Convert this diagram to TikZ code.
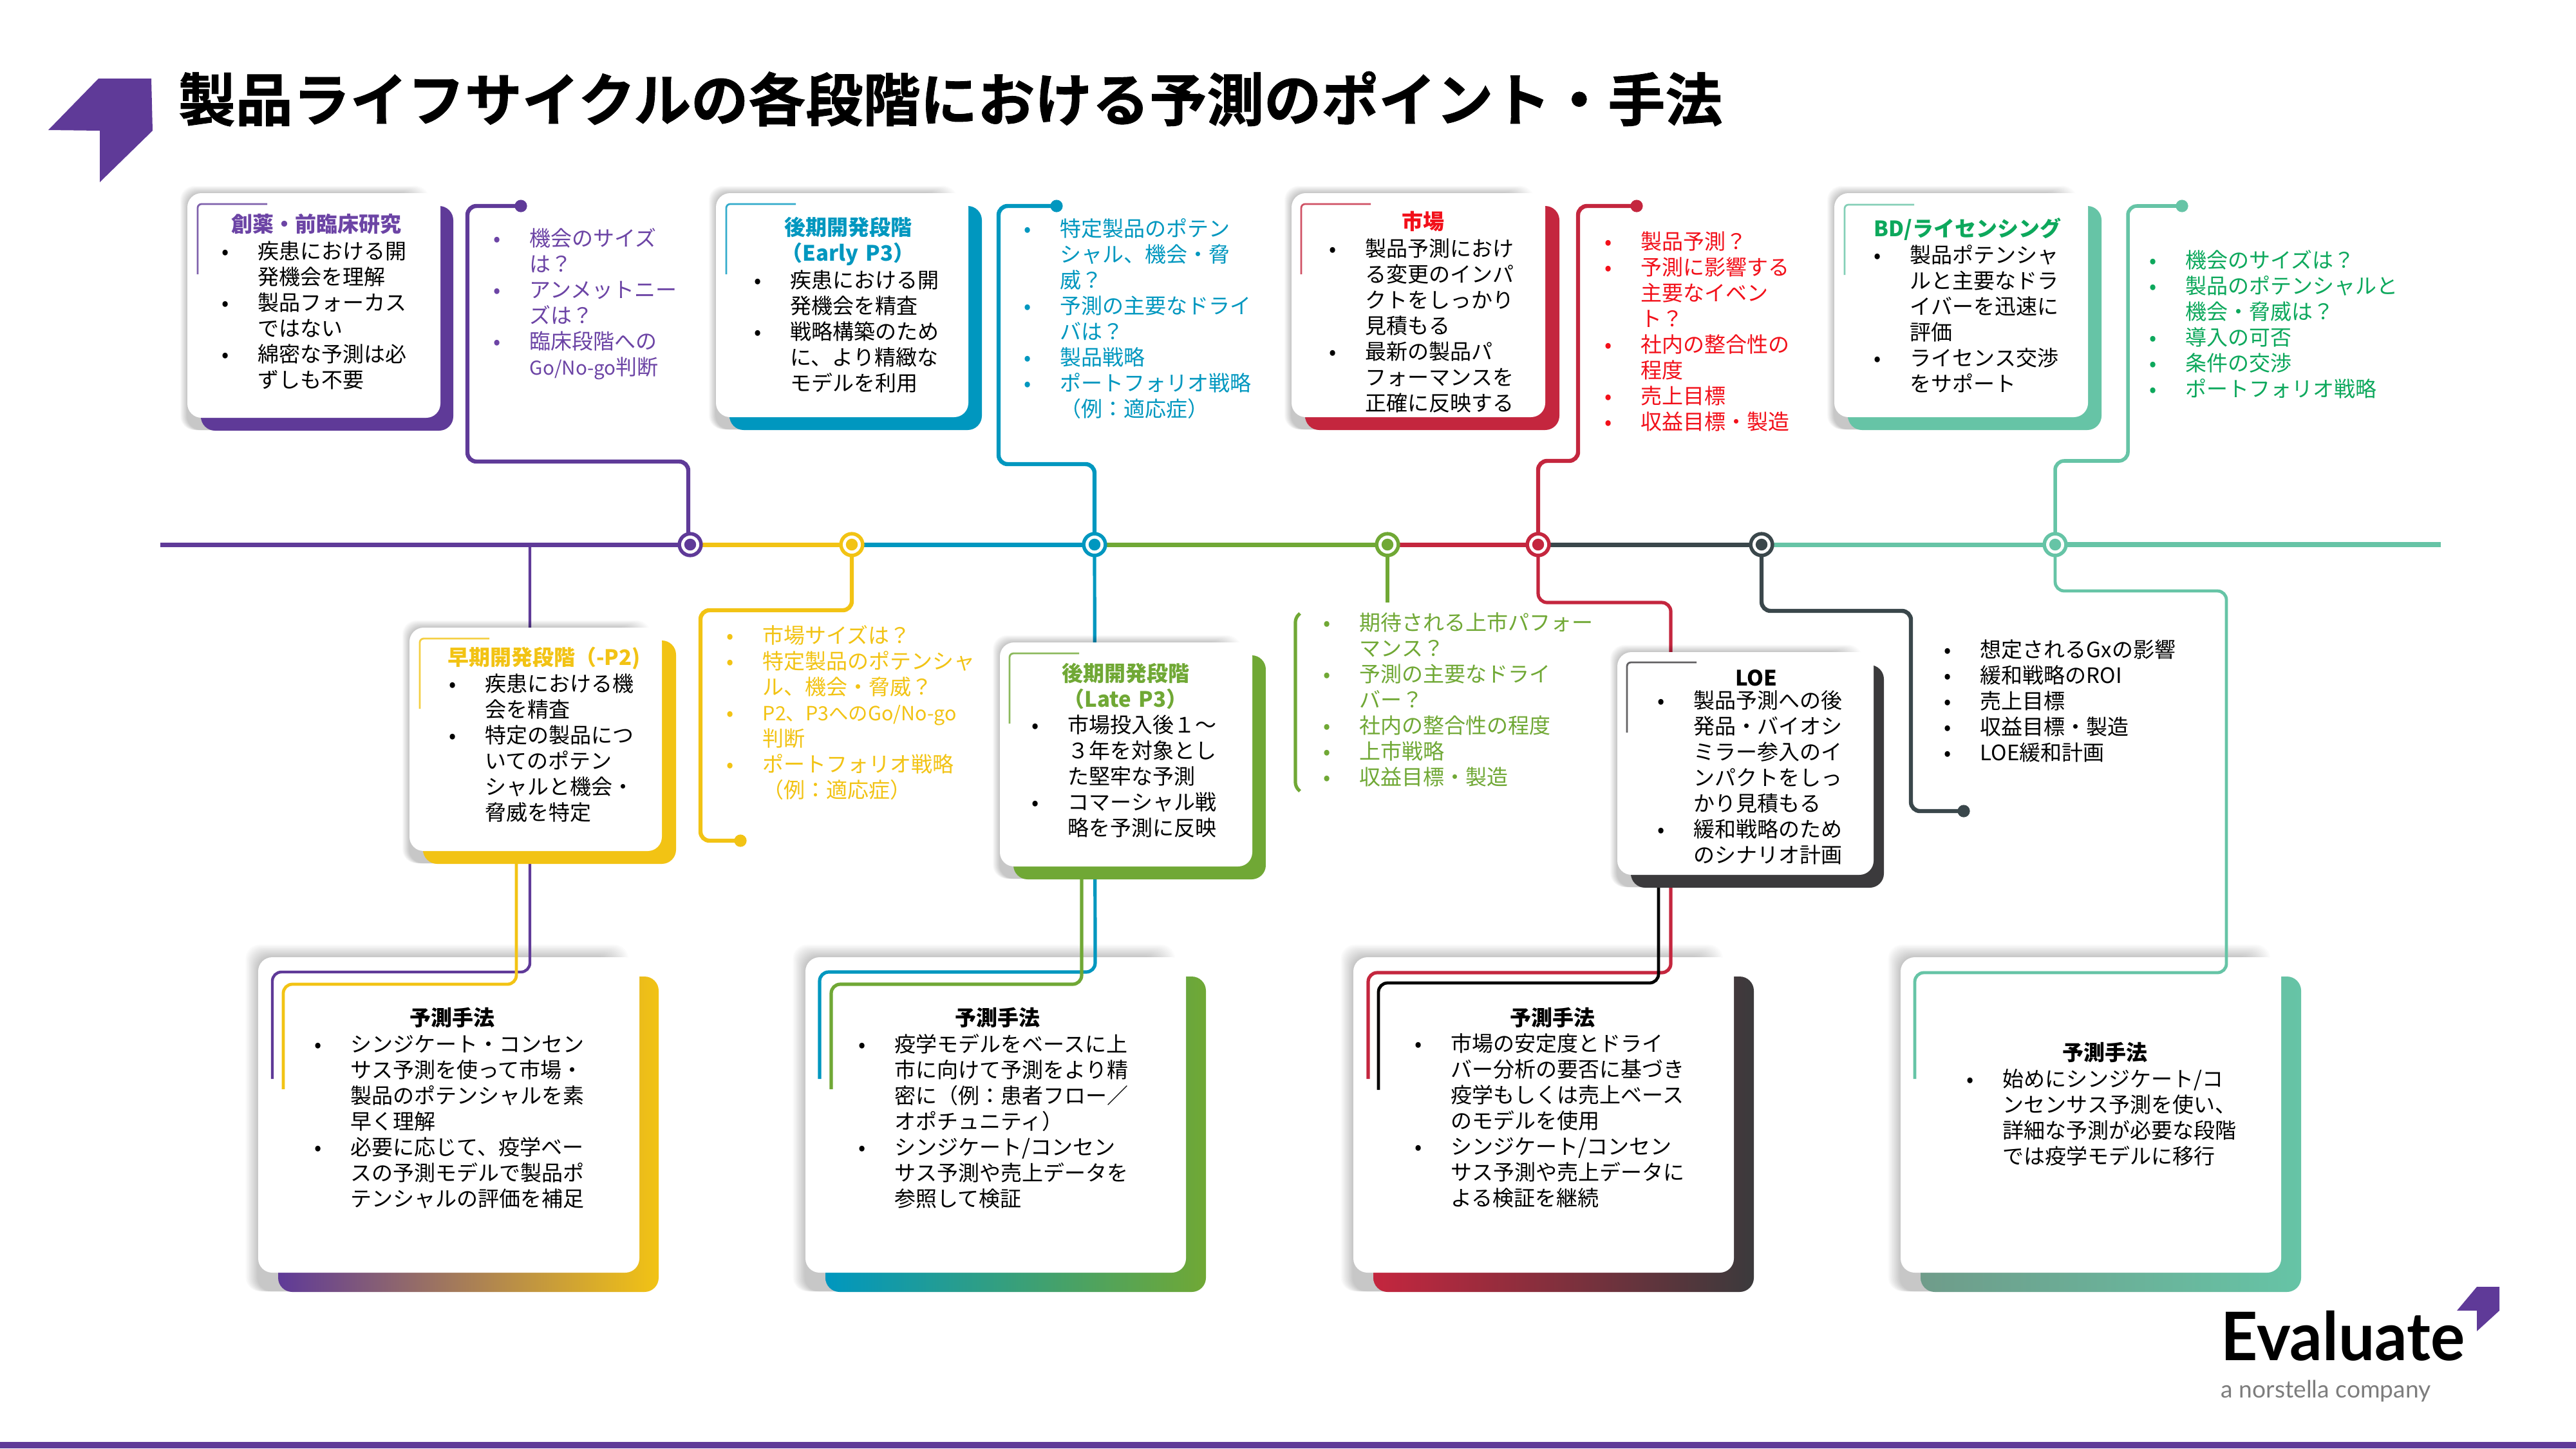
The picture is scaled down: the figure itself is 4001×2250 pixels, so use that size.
\documentclass[tikz,border=0pt]{standalone}
\usepackage{fontspec}
\setmainfont{Noto Sans CJK JP}
\newfontfamily\ttlfont[FakeBold=1]{Noto Sans CJK JP Bold}
\newfontfamily\logofont{Lato}
\pgfdeclarelayer{under}\pgfdeclarelayer{mid}
\pgfsetlayers{under,mid,main}
\definecolor{cpurp}{HTML}{5F3A98}\definecolor{tpurp}{HTML}{6C44A5}
\definecolor{cyel}{HTML}{F2C314}\definecolor{cblue}{HTML}{0097BF}
\definecolor{cgreen}{HTML}{70A835}\definecolor{cred}{HTML}{C4263E}
\definecolor{cdark}{HTML}{3B3A3C}\definecolor{cslate}{HTML}{3A474B}
\definecolor{cmint}{HTML}{66C4A6}\definecolor{tmint}{HTML}{0DA85C}
\definecolor{tred}{HTML}{F2101A}\definecolor{mintfade}{HTML}{6F9C8A}
\definecolor{cgrey}{HTML}{7D7D7D}
\tikzset{
 x=0.25pt,y=-0.25pt,
 cardwhite/.style={fill=white,rounded corners=5.5pt,inner sep=0pt,draw=none},
 conn/.style={draw=#1,line width=1.6pt,rounded corners=3.5pt},
 thin corner/.style={draw=#1,line width=0.7pt,rounded corners=1.5pt},
 spine/.style={draw=#1,line width=1.75pt},
 body/.style={inner sep=0pt,anchor=base west,align=left,font=\fontsize{8.25}{10}\selectfont,text=#1},
 body/.default=black,
 cardtitle/.style={inner sep=0pt,anchor=base,align=center,text width=90pt,font=\fontsize{8.25}{10}\selectfont\bfseries,text=#1},
 endcap/.style={circle,fill=#1,inner sep=0pt,minimum size=4.8pt},
 ringouter/.style={circle,fill=#1,inner sep=0pt,minimum size=9.8pt},
}
\newcommand\bl{\leavevmode\llap{\makebox[0pt][c]{•}\hspace{12.75pt}}}
% name xl yt xr yb right-offset depth colourA colourB
\newcommand\cardback[9]{%
 \foreach \k in {1,...,14}{\fill[black,opacity=.017,rounded corners=5.5pt]
   ({#2-(0.06*#7-0.4)*\k},{#3-(0.06*#7-0.4)*\k}) rectangle ({#4-45+2*\k},{#5+#7-1});}
 \shade[left color=#8,right color=#9,rounded corners=5.5pt]
   ({#2+#7+1},{#3+#7}) rectangle ({#4+#6},{#5+#7});
 \node[cardwhite,minimum width={(#4-#2)*0.25pt},minimum height={(#5-#3)*0.25pt}] (#1) at ({(#2+#4)/2},{(#3+#5)/2}) {};
}
\newcommand\thincorner[3]{\draw[thin corner=#3,opacity=.8] (#1,{#2+109}) -- (#1,#2) -- ({#1+108},#2);}
\newcommand\ring[4]{% name x y colour
 \node[ringouter=#4] (#1) at (#2,#3) {};
 \node[circle,fill=white,inner sep=0pt,minimum size=7pt] (#1w) at (#2,#3) {};
 \node[circle,fill=#4,inner sep=0pt,minimum size=4.6pt] (#1c) at (#2,#3) {};
}
\begin{document}
\begin{tikzpicture}
\useasboundingbox (0,0) rectangle (4001,2250);
\begin{pgfonlayer}{under}
\fill[white] (0,0) rectangle (4001,2250);
\end{pgfonlayer}
% header
\fill[cpurp] (153,122) -- (235,122) -- (237,203) -- (155,283) -- (155,203) -- (75,202) -- cycle;
\node[inner sep=0pt,anchor=base west,font=\ttlfont\fontsize{22.25}{26}\selectfont] (title) at (276,188) {製品ライフサイクルの各段階における予測のポイント・手法};
\fill[cpurp] (0,2240) rectangle (4001,2250);

% bottom cards
\begin{pgfonlayer}{under}
\cardback{m1}{401}{1487}{993}{1977}{30}{30}{cpurp}{cyel}
\cardback{m2}{1251}{1487}{1842}{1977}{31}{30}{cblue}{cgreen}
\cardback{m3}{2102}{1487}{2693}{1977}{31}{30}{cred}{cdark}
\cardback{m4}{2952}{1487}{3543}{1977}{31}{30}{mintfade}{cmint}
\end{pgfonlayer}

% top cards
\cardback{c1}{291}{300}{684}{649}{20}{20}{cpurp}{cpurp}
\cardback{c2}{636}{975}{1028}{1322}{22}{20}{cyel}{cyel}
\cardback{c3}{1112}{300}{1504}{648}{21}{20}{cblue}{cblue}
\cardback{c4}{1553}{998}{1945}{1346}{21}{20}{cgreen}{cgreen}
\cardback{c5}{2006}{300}{2400}{648}{22}{20}{cred}{cred}
\cardback{c6}{2512}{1013}{2910}{1359}{16}{20}{cdark}{cdark}
\cardback{c7}{2849}{300}{3243}{648}{21}{20}{cmint}{cmint}

\thincorner{307}{317}{cpurp}
\thincorner{652}{992}{cyel}
\thincorner{1128}{317}{cblue}
\thincorner{1568}{1015}{cgreen}
\thincorner{2021}{317}{cred}
\thincorner{2527}{1029}{cdark}
\thincorner{2865}{318}{cmint}

% rings and end caps
\ring{n1}{1072}{846}{cpurp}
\ring{n2}{1323}{846}{cyel}
\ring{n3}{1700}{846}{cblue}
\ring{n4}{2155}{846}{cgreen}
\ring{n5}{2389}{846}{cred}
\ring{n6}{2736}{846}{cslate}
\ring{n7}{3192}{846}{cmint}
\node[endcap=cpurp] (d1) at (809,320) {};
\node[endcap=cyel] (d2) at (1150,1306) {};
\node[endcap=cblue] (d3) at (1641,320) {};
\node[endcap=cred] (d5) at (2542,320) {};
\node[endcap=cslate] (d6) at (3050,1260) {};
\node[endcap=cmint] (d7) at (3389,320) {};

\coordinate (start) at (249,846);
\coordinate (stop) at (3791,846);
\coordinate (tap1) at (823,846);
\coordinate (end1) at (423,1676);
\coordinate (end2) at (440,1692);
\coordinate (end3) at (1273,1676);
\coordinate (end4) at (1291,1692);
\coordinate (end5) at (2125,1676);
\coordinate (end6) at (2141,1693);
\coordinate (end7) at (2974,1676);
\coordinate (end8) at (2155,936);
\coordinate (src2) at (802,1322);
\coordinate (src4) at (1680,1346);
\coordinate (src6) at (2576,1359);

\begin{pgfonlayer}{mid}
\draw[spine=cpurp] (start) -- (n1.center);
\draw[spine=cyel] (n1.center) -- (n2.center);
\draw[spine=cblue] (n2.center) -- (n3.center);
\draw[spine=cgreen] (n3.center) -- (n4.center);
\draw[spine=cred] (n4.center) -- (n5.center);
\draw[spine=cslate] (n5.center) -- (n6.center);
\draw[spine=cmint] (n6.center) -- (n7.center);
\draw[spine=cmint,line width=2pt] (n7.center) -- (stop);
% upward and side branches
\draw[conn=cpurp] (d1.center) -- (726,320) -- (726,717) -- (1069,717) -- (1069,846);
\draw[conn=cyel] (n2.center) -- (1323,948) -- (1088,948) -- (1088,1306) -- (d2.center);
\draw[conn=cblue] (d3.center) -- (1551,320) -- (1551,721) -- (1700,721) -- (n3.center);
\draw[conn=cred] (d5.center) -- (2451,320) -- (2451,716) -- (2389,716) -- (n5.center);
\draw[conn=cslate] (n6.center) -- (2736,949) -- (2968,949) -- (2968,1260) -- (d6.center);
\draw[conn=cmint,line width=1.4pt] (d7.center) -- (3305,320) -- (3305,716) -- (3192,716) -- (n7.center);
\draw[conn=cgreen] (n4.center) -- (end8);
% branches running down to the method cards
\draw[conn=cpurp,line width=1.1pt] (tap1) -- (823,1510) -- (423,1510) -- (end1);
\draw[conn=cyel,line width=1.2pt] (src2) -- (802,1529) -- (440,1529) -- (end2);
\draw[conn=cblue,line width=1.3pt] (n3.center) -- (1701,1510) -- (1273,1510) -- (end3);
\draw[conn=cgreen,line width=1.3pt] (src4) -- (1680,1529) -- (1291,1529) -- (end4);
\draw[conn=cred,line width=1.3pt] (n5.center) -- (2389,936) -- (2595,936) -- (2595,1511) -- (2125,1511) -- (end5);
\draw[conn=black,line width=1.2pt] (src6) -- (2576,1527) -- (2141,1527) -- (end6);
\draw[conn=cmint,line width=1.2pt] (n7.center) -- (3192,918) -- (3458,918) -- (3458,1511) -- (2974,1511) -- (end7);
\end{pgfonlayer}
% green bracket
\draw[cgreen,line width=1.3pt,rounded corners=1.5pt] (2019,953) -- (2012,960) -- (2012,1222) -- (2019,1229);

% card texts
\node[cardtitle=tpurp] (t1) at (491,360) {創薬・前臨床研究};
\node[body,text width=60pt] (b1) at (400,402) {\bl 疾患における開\\発機会を理解\\\bl 製品フォーカス\\ではない\\\bl 綿密な予測は必\\ずしも不要};
\node[body=tpurp,text width=60pt] (x1) at (822,382) {\bl 機会のサイズ\\は？\\\bl アンメットニー\\ズは？\\\bl 臨床段階への\\{\fontsize{7.4}{10}\selectfont Go/No-go}判断};

\node[cardtitle=cyel] (t2) at (845,1033) {早期開発段階（-P2)};
\node[body,text width=60pt] (b2) at (753,1074) {\bl 疾患における機\\会を精査\\\bl 特定の製品につ\\いてのポテン\\シャルと機会・\\脅威を特定};
\node[body=cyel,text width=90pt] (x2) at (1184,999) {\bl 市場サイズは？\\\bl 特定製品のポテンシャ\\ル、機会・脅威？\\\bl {\fontsize{7.6}{10}\selectfont P2、P3へのGo/No-go}\\判断\\\bl ポートフォリオ戦略\\（例：適応症）};

\node[cardtitle=cblue] (t3) at (1317,365) {後期開発段階\\（Early P3）};
\node[body,text width=60pt] (b3) at (1227,447) {\bl 疾患における開\\発機会を精査\\\bl 戦略構築のため\\に、より精緻な\\モデルを利用};
\node[body=cblue,text width=80pt] (x3) at (1646,367) {\bl 特定製品のポテン\\シャル、機会・脅\\威？\\\bl 予測の主要なドライ\\バは？\\\bl 製品戦略\\\bl ポートフォリオ戦略\\（例：適応症）};

\node[cardtitle=cgreen] (t4) at (1748,1058) {後期開発段階\\（Late P3）};
\node[body,text width=60pt] (b4) at (1658,1138) {\bl 市場投入後１～\\３年を対象とし\\た堅牢な予測\\\bl コマーシャル戦\\略を予測に反映};
\node[body=cgreen,text width=95pt] (x4) at (2111,979) {\bl 期待される上市パフォー\\マンス？\\\bl 予測の主要なドライ\\バー？\\\bl 社内の整合性の程度\\\bl 上市戦略\\\bl 収益目標・製造};

\node[cardtitle=tred] (t5) at (2210,356) {市場};
\node[body,text width=60pt] (b5) at (2120,398) {\bl 製品予測におけ\\る変更のインパ\\クトをしっかり\\見積もる\\\bl 最新の製品パ\\フォーマンスを\\正確に反映する};
\node[body=tred,text width=65pt] (x5) at (2548,387) {\bl 製品予測？\\\bl 予測に影響する\\主要なイベン\\ト？\\\bl 社内の整合性の\\程度\\\bl 売上目標\\\bl 収益目標・製造};

\node[cardtitle=black] (t6) at (2728,1065) {LOE};
\node[body,text width=60pt] (b6) at (2630,1100) {\bl 製品予測への後\\発品・バイオシ\\ミラー参入のイ\\ンパクトをしっ\\かり見積もる\\\bl 緩和戦略のため\\のシナリオ計画};
\node[body,text width=80pt] (x6) at (3075,1021) {\bl 想定されるGxの影響\\\bl 緩和戦略のROI\\\bl 売上目標\\\bl 収益目標・製造\\\bl LOE緩和計画};

\node[cardtitle=tmint] (t7) at (3056,367) {BD/ライセンシング};
\node[body,text width=60pt] (b7) at (2966,408) {\bl 製品ポテンシャ\\ルと主要なドラ\\イバーを迅速に\\評価\\\bl ライセンス交渉\\をサポート};
\node[body=tmint,text width=90pt] (x7) at (3394,416) {\bl 機会のサイズは？\\\bl 製品のポテンシャルと\\機会・脅威は？\\\bl 導入の可否\\\bl 条件の交渉\\\bl ポートフォリオ戦略};

% method cards
\node[cardtitle=black] (mt1) at (702,1593) {予測手法};
\node[body,text width=95pt] (mb1) at (544,1634) {\bl シンジケート・コンセン\\サス予測を使って市場・\\製品のポテンシャルを素\\早く理解\\\bl 必要に応じて、疫学ベー\\スの予測モデルで製品ポ\\テンシャルの評価を補足};
\node[cardtitle=black] (mt2) at (1549,1593) {予測手法};
\node[body,text width=95pt] (mb2) at (1389,1634) {\bl 疫学モデルをベースに上\\市に向けて予測をより精\\密に（例：患者フロー／\\オポチュニティ）\\\bl シンジケート/コンセン\\サス予測や売上データを\\参照して検証};
\node[cardtitle=black] (mt3) at (2411,1593) {予測手法};
\node[body,text width=95pt] (mb3) at (2253,1633) {\bl 市場の安定度とドライ\\バー分析の要否に基づき\\疫学もしくは売上ベース\\のモデルを使用\\\bl シンジケート/コンセン\\サス予測や売上データに\\よる検証を継続};
\node[cardtitle=black] (mt4) at (3269,1647) {予測手法};
\node[body,text width=95pt] (mb4) at (3110,1688) {\bl 始めにシンジケート/コ\\ンセンサス予測を使い、\\詳細な予測が必要な段階\\では疫学モデルに移行};

% brand mark
\fill[cpurp] (3816,2036) -- (3847,1999) -- (3882,1999) -- (3882,2036) -- (3847,2068) -- (3847,2036) -- cycle;
\node[inner sep=0pt,anchor=base west,font=\logofont\fontsize{26}{30}\selectfont\bfseries] (brand) at (3449,2113) {\scalebox{.96}[1]{Evaluate}};
\node[inner sep=0pt,anchor=base west,font=\logofont\fontsize{9.3}{10}\selectfont,text=cgrey] (brand2) at (3449,2171) {a norstella company};
\end{tikzpicture}
\end{document}
